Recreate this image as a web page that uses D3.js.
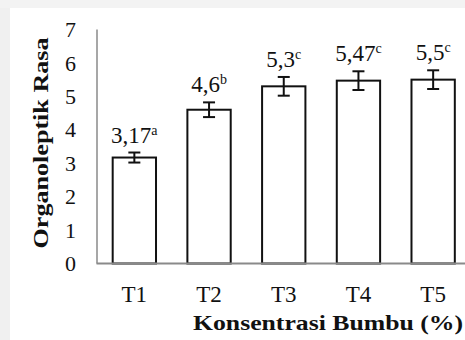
<!DOCTYPE html>
<html>
<head>
<meta charset="utf-8">
<script src="https://cdn.jsdelivr.net/npm/d3@7"></script>
<style>
  body { margin: 0; background: #fff; }
  svg text { font-family: "Liberation Serif", "DejaVu Serif", serif; }
</style>
</head>
<body>
<svg width="465" height="340"></svg>
<script>
const categories = ['T1', 'T2', 'T3', 'T4', 'T5']
const values = [3.17, 4.6, 5.3, 5.47, 5.5]
const errors = [0.15, 0.22, 0.28, 0.28, 0.28]
const letters = ['a', 'b', 'c', 'c', 'c']
const yTicks = [0, 1, 2, 3, 4, 5, 6, 7]

const svg = d3.select('svg')

// faint page shading from the scan
svg.append('rect').attr('x', 0).attr('y', 0).attr('width', 465).attr('height', 8).attr('fill', '#f3f3f3')
svg.append('rect').attr('x', 0).attr('y', 8).attr('width', 10).attr('height', 332).attr('fill', '#f0f0f0')

const x = d3.scaleBand()
    .domain(categories)
    .range([97, 470.5])
    .paddingInner(0.42)
    .paddingOuter(0.21)

const y = d3.scaleLinear().domain([0, 7]).range([263.5, 29.5])

const rows = categories.map((c, i) => ({ c, v: values[i], e: errors[i], l: letters[i] }))

// bars
svg.append('g').selectAll('rect').data(rows).join('rect')
    .attr('x', d => x(d.c))
    .attr('y', d => y(d.v))
    .attr('width', x.bandwidth())
    .attr('height', d => y(0) - y(d.v))
    .attr('fill', '#fff')
    .attr('stroke', '#111')
    .attr('stroke-width', 2)

// axis lines
svg.append('line').attr('x1', 97).attr('x2', 97).attr('y1', y(7)).attr('y2', y(0))
    .attr('stroke', '#8a8a8a').attr('stroke-width', 1.5)
svg.append('line').attr('x1', 96.5).attr('x2', 465).attr('y1', y(0)).attr('y2', y(0))
    .attr('stroke', '#8a8a8a').attr('stroke-width', 2)

// error bars
const eb = svg.append('g').attr('stroke', '#111').attr('stroke-width', 2)
rows.forEach(d => {
    const cx = x(d.c) + x.bandwidth() / 2
    eb.append('line').attr('x1', cx).attr('x2', cx).attr('y1', y(d.v + d.e)).attr('y2', y(d.v - d.e))
    eb.append('line').attr('x1', cx - 6).attr('x2', cx + 6).attr('y1', y(d.v + d.e)).attr('y2', y(d.v + d.e))
    eb.append('line').attr('x1', cx - 6).attr('x2', cx + 6).attr('y1', y(d.v - d.e)).attr('y2', y(d.v - d.e))
})

// value labels
const lab = svg.append('g').selectAll('text').data(rows).join('text')
    .attr('x', d => x(d.c) + x.bandwidth() / 2)
    .attr('y', d => y(d.v + d.e) - 10)
    .attr('text-anchor', 'middle')
    .attr('font-size', 23)
    .attr('fill', '#111')
lab.append('tspan').text(d => String(d.v).replace('.', ','))
lab.append('tspan').attr('font-size', 14).attr('dy', -8).text(d => d.l)

// y tick labels
svg.append('g').selectAll('text').data(yTicks).join('text')
    .attr('x', 76)
    .attr('y', d => y(d))
    .attr('dy', '0.35em')
    .attr('text-anchor', 'end')
    .attr('font-size', 22)
    .attr('fill', '#111')
    .text(d => d)

// x tick labels
svg.append('g').selectAll('text').data(categories).join('text')
    .attr('x', d => x(d) + x.bandwidth() / 2)
    .attr('y', 302)
    .attr('text-anchor', 'middle')
    .attr('font-size', 23)
    .attr('fill', '#111')
    .text(d => d)

// axis titles
svg.append('text')
    .attr('x', 463).attr('y', 330)
    .attr('text-anchor', 'end')
    .attr('font-size', 21).attr('font-weight', 'bold').attr('fill', '#111')
    .attr('textLength', 270).attr('lengthAdjust', 'spacingAndGlyphs')
    .text('Konsentrasi Bumbu (%)')

svg.append('text')
    .attr('transform', 'translate(48,143) rotate(-90)')
    .attr('text-anchor', 'middle')
    .attr('font-size', 21).attr('font-weight', 'bold').attr('fill', '#111')
    .attr('textLength', 211).attr('lengthAdjust', 'spacingAndGlyphs')
    .text('Organoleptik Rasa')
</script>
</body>
</html>
